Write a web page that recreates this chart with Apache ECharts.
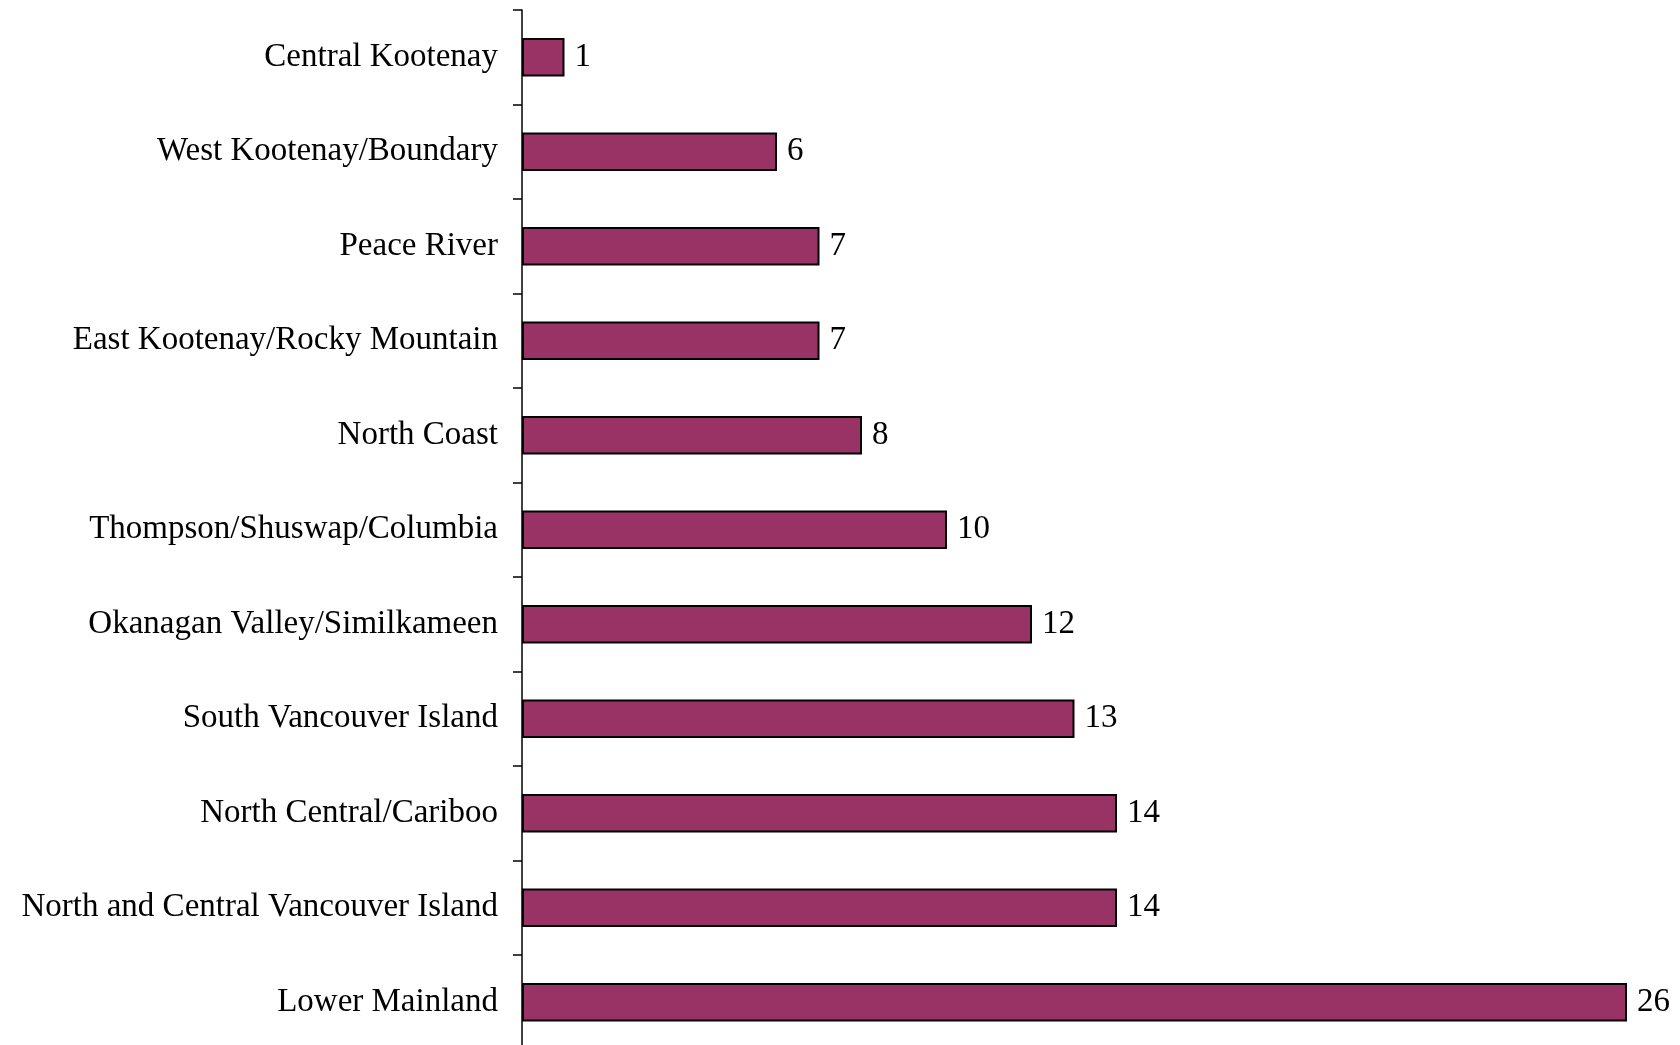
<!DOCTYPE html>
<html>
<head>
<meta charset="utf-8">
<script src="https://cdn.jsdelivr.net/npm/echarts@6/dist/echarts.min.js"></script>
<style>
  html, body { margin: 0; padding: 0; background: #fff; }
  #chart { width: 1680px; height: 1045px; }
</style>
</head>
<body>
<div id="chart"></div>
<script>
// 区域（从上到下）
const regions = [
    'Central Kootenay',
    'West Kootenay/Boundary',
    'Peace River',
    'East Kootenay/Rocky Mountain',
    'North Coast',
    'Thompson/Shuswap/Columbia',
    'Okanagan Valley/Similkameen',
    'South Vancouver Island',
    'North Central/Cariboo',
    'North and Central Vancouver Island',
    'Lower Mainland'
];
const counts = [1, 6, 7, 7, 8, 10, 12, 13, 14, 14, 26];

const chart = echarts.init(document.getElementById('chart'));

const option = {
    animation: false,
    grid: {
        left: 522,
        top: 10,
        width: 1105,
        height: 1039.5,
        // 不让标签挤压网格
        outerBoundsMode: 'none'
    },
    xAxis: {
        type: 'value',
        min: 0,
        max: 26,
        show: false
    },
    yAxis: {
        type: 'category',
        inverse: true,
        data: regions,
        axisLine: { show: true, lineStyle: { color: '#000', width: 1.5 } },
        axisTick: { show: true, length: 9, lineStyle: { color: '#000', width: 1.5 } },
        axisLabel: {
            margin: 24,
            color: '#000',
            fontFamily: 'Liberation Serif',
            fontSize: 33,
            padding: [5, 0, 0, 0]
        }
    },
    series: [{
        type: 'bar',
        data: counts,
        barCategoryGap: '59%',
        itemStyle: {
            color: '#993366',
            borderColor: '#000',
            borderWidth: 2
        },
        label: {
            show: true,
            position: 'right',
            distance: 10,
            color: '#000',
            fontFamily: 'Liberation Serif',
            fontSize: 33,
            padding: [5, 0, 0, 0]
        }
    }]
};

chart.setOption(option);
</script>
</body>
</html>
